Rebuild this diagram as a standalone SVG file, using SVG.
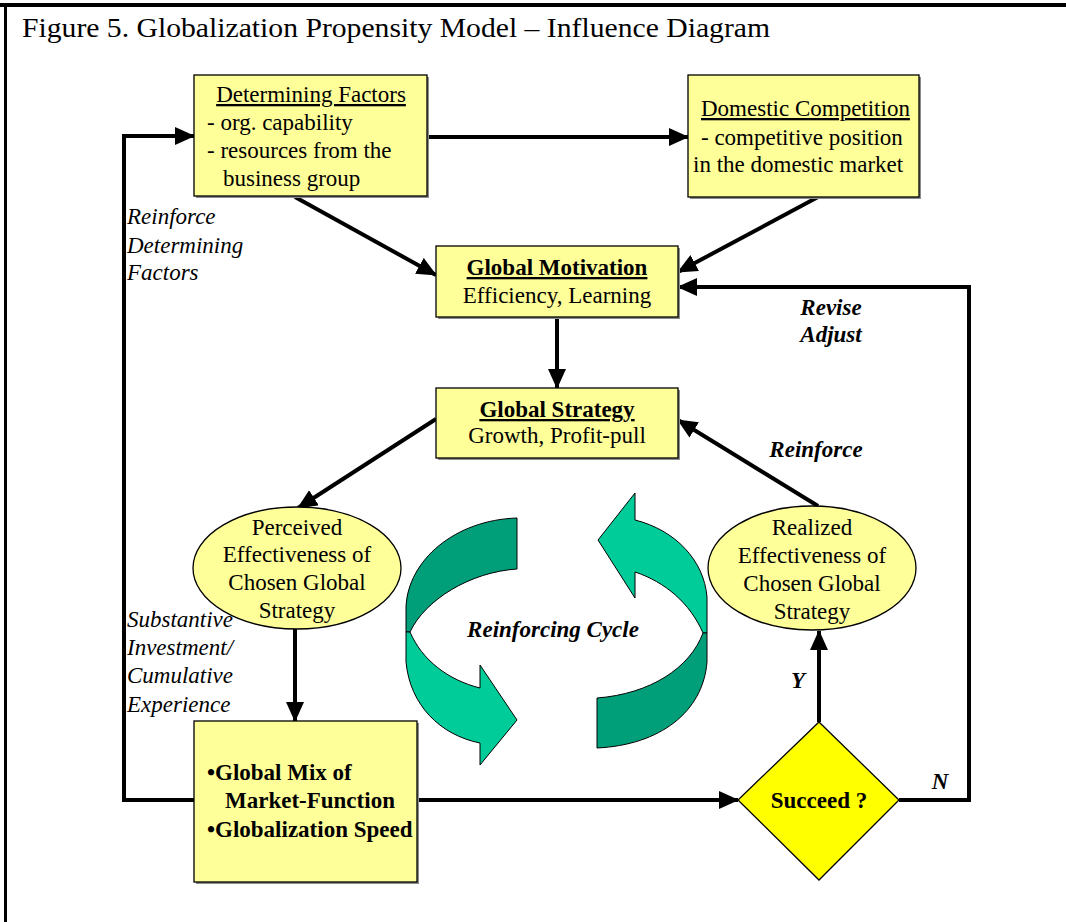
<svg xmlns="http://www.w3.org/2000/svg" width="1066" height="922" viewBox="0 0 1066 922">
<style>
text{font-family:"Liberation Serif","Times New Roman",serif;font-size:23px;fill:#000}
.b{font-weight:bold}
.i{font-style:italic}
.u{text-decoration:underline}
.m{text-anchor:middle}
.box{fill:#FFFF99;stroke:#000;stroke-width:1.3}
.sh{fill:#8c8c8c}
.conn{fill:none;stroke:#000;stroke-width:4;marker-end:url(#ah)}
.lc{fill:#00CC99;stroke:#000;stroke-width:1}
.dc{fill:#009F7A;stroke:#000;stroke-width:1}
</style>
<defs>
<marker id="ah" markerUnits="userSpaceOnUse" markerWidth="20" markerHeight="18" refX="19" refY="9" orient="auto" viewBox="0 0 20 18">
<path d="M0,0 L20,9 L0,18 Z" fill="#000"/>
</marker>
</defs>
<rect width="1066" height="922" fill="#fff"/>
<g id="frame">
<line x1="0" y1="5" x2="1066" y2="5" stroke="#000" stroke-width="4"/>
<line x1="5.5" y1="3" x2="5.5" y2="922" stroke="#000" stroke-width="3"/>
<text x="22" y="37" style="font-size:28px" textLength="748" lengthAdjust="spacingAndGlyphs">Figure 5. Globalization Propensity Model – Influence Diagram</text>
</g>
<g id="cycle">
<path class="dc" d="M517,518 C455,520 408,560 406,607 L406,632 L410,632 C425,600 470,572 517,569 Z"/>
<path class="lc" d="M406,632 L406,662 C410,705 440,735 480,743 L480,765 L517,720 L480,665 L480,688 C448,680 422,660 410,632 Z"/>
<path class="lc" d="M635,520 C675,530 704,560 707,597 L707,633 L703,633 C690,603 665,582 635,572 L635,598 L598,540 L635,493 Z"/>
<path class="dc" d="M707,633 L707,662 C703,712 660,745 597,748 L597,698 C650,694 690,668 703,633 Z"/>
<text class="b i m" x="553" y="637">Reinforcing Cycle</text>
</g>
<g id="connectors">
<path class="conn" d="M427,137 L688,137"/>
<path class="conn" d="M194,800 L124,800 L124,136 L194,136"/>
<path class="conn" d="M295,197 L436,275"/>
<path class="conn" d="M818,197 L678,272"/>
<path class="conn" d="M899,800 L969,800 L969,287 L678,287"/>
<path class="conn" d="M557,317 L557,388"/>
<path class="conn" d="M436,419 L298,508"/>
<path class="conn" d="M818,506 L678,420"/>
<path class="conn" d="M295,629 L295,721"/>
<path class="conn" d="M417,800 L738,800"/>
<path class="conn" d="M819,722 L819,631"/>
</g>
<g id="labels">
<text class="i" x="127" y="224">Reinforce</text>
<text class="i" x="127" y="253">Determining</text>
<text class="i" x="127" y="280">Factors</text>
<text class="i" x="127" y="627">Substantive</text>
<text class="i" x="127" y="655">Investment/</text>
<text class="i" x="127" y="683">Cumulative</text>
<text class="i" x="127" y="712">Experience</text>
<text class="b i m" x="831" y="315">Revise</text>
<text class="b i m" x="831" y="342">Adjust</text>
<text class="b i m" x="816" y="457">Reinforce</text>
<text class="b i m" x="798" y="688">Y</text>
<text class="b i m" x="940" y="789">N</text>
</g>
<g id="determining-factors">
<rect class="sh" x="196" y="77" width="233" height="121"/>
<rect class="box" x="194" y="75" width="233" height="121"/>
<text class="u m" x="311" y="102">Determining Factors</text>
<text x="207" y="130">- org. capability</text>
<text x="207" y="158">- resources from the</text>
<text x="223" y="186">business group</text>
</g>
<g id="domestic-competition">
<rect class="sh" x="690" y="77" width="231" height="122"/>
<rect class="box" x="688" y="75" width="231" height="122"/>
<text class="u" x="701" y="116">Domestic Competition</text>
<text x="701" y="145">- competitive position</text>
<text x="693" y="172">in the domestic market</text>
</g>
<g id="global-motivation">
<rect class="sh" x="438" y="248" width="242" height="71"/>
<rect class="box" x="436" y="246" width="242" height="71"/>
<text class="b u m" x="557" y="275">Global Motivation</text>
<text class="m" x="557" y="303">Efficiency, Learning</text>
</g>
<g id="global-strategy">
<rect class="sh" x="438" y="390" width="242" height="70"/>
<rect class="box" x="436" y="388" width="242" height="70"/>
<text class="b u m" x="557" y="417">Global Strategy</text>
<text class="m" x="557" y="443">Growth, Profit-pull</text>
</g>
<g id="perceived-effectiveness">
<ellipse class="box" cx="297" cy="568" rx="104" ry="61"/>
<text class="m" x="297" y="535">Perceived</text>
<text class="m" x="297" y="562">Effectiveness of</text>
<text class="m" x="297" y="590">Chosen Global</text>
<text class="m" x="297" y="618">Strategy</text>
</g>
<g id="realized-effectiveness">
<ellipse class="box" cx="812" cy="568" rx="104" ry="62"/>
<text class="m" x="812" y="535">Realized</text>
<text class="m" x="812" y="563">Effectiveness of</text>
<text class="m" x="812" y="591">Chosen Global</text>
<text class="m" x="812" y="619">Strategy</text>
</g>
<g id="global-mix">
<rect class="sh" x="196" y="723" width="223" height="161"/>
<rect class="box" x="194" y="721" width="223" height="161"/>
<text class="b" x="207" y="780">•Global Mix of</text>
<text class="b" x="225" y="808">Market-Function</text>
<text class="b" x="207" y="837">•Globalization Speed</text>
</g>
<g id="succeed">
<polygon points="819,722 899,800 819,880 738,800" fill="#FFFF00" stroke="#000" stroke-width="1.3"/>
<text class="b m" x="819" y="808">Succeed ?</text>
</g>
</svg>
